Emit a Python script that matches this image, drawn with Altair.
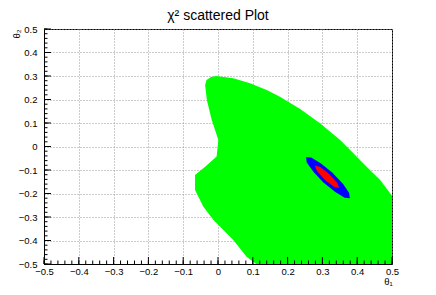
import altair as alt
import pandas as pd

# green region outline
green_x = [-0.005, 0.044, 0.092, 0.140, 0.178, 0.236, 0.293, 0.351, 0.389, 0.427, 0.466, 0.500,
           0.500, 0.110, 0.082, 0.044, -0.013, -0.042, -0.066, -0.066, -0.037, -0.004, 0.001,
           -0.018, -0.032, -0.037, -0.033, -0.020]
green_y = [0.300, 0.290, 0.269, 0.240, 0.212, 0.160, 0.099, 0.028, -0.029, -0.086, -0.143, -0.210,
           -0.500, -0.500, -0.469, -0.398, -0.313, -0.256, -0.185, -0.121, -0.086, -0.043, 0.028,
           0.113, 0.198, 0.262, 0.283, 0.296]

# blue region outline
blue_x = [0.379, 0.364, 0.337, 0.303, 0.274, 0.255, 0.253, 0.268, 0.296, 0.329, 0.359, 0.377]
blue_y = [-0.220, -0.218, -0.194, -0.153, -0.107, -0.068, -0.046, -0.047, -0.072, -0.112, -0.159, -0.198]

# red region outline
red_x = [0.348, 0.333, 0.306, 0.284, 0.278, 0.294, 0.320, 0.343]
red_y = [-0.177, -0.171, -0.140, -0.103, -0.081, -0.087, -0.118, -0.155]

major_ticks = [-0.5, -0.4, -0.3, -0.2, -0.1, 0.0, 0.1, 0.2, 0.3, 0.4, 0.5]
minor_ticks = [round(-0.5 + 0.02 * i, 2) for i in range(51)]

title_text = ["χ² scattered Plot"]

FONT = "Liberation Sans"
W, H = 348, 235

def poly(xs, ys):
    return pd.DataFrame({"x": xs, "y": ys, "i": list(range(len(xs)))})

xscale = alt.Scale(domain=[-0.5, 0.5], nice=False, zero=False)
yscale = alt.Scale(domain=[-0.5, 0.5], nice=False, zero=False)

xaxis = alt.Axis(values=major_ticks, format=".1~f", ticks=False, grid=True,
                 gridDash=[1, 2], gridColor="#999", gridWidth=1,
                 labelFont=FONT, labelFontSize=9.5, labelPadding=2, labelColor="black",
                 labelFlush=False, labelOverlap=False, labelBound=False,
                 title="θ₁", titleFont=FONT, titleFontSize=9.5, titleFontWeight="normal",
                 titleX=344, titleY=12, titleAlign="center", titleBaseline="top")
yaxis = alt.Axis(values=major_ticks, format=".1~f", ticks=False, grid=True,
                 gridDash=[1, 2], gridColor="#999", gridWidth=1,
                 labelFont=FONT, labelFontSize=9.5, labelPadding=7, labelColor="black",
                 labelFlush=False, labelOverlap=False, labelBound=False,
                 title="θ₂", titleFont=FONT, titleFontSize=9.5, titleFontWeight="normal",
                 titleAngle=-90, titleX=-28, titleY=0, titleAlign="right", titleBaseline="middle")

X = alt.X("x:Q", scale=xscale, axis=xaxis)
Y = alt.Y("y:Q", scale=yscale, axis=yaxis)

green = alt.Chart(poly(green_x, green_y)).mark_line(filled=True, color="#00ff00").encode(
    x=X, y=Y, order="i:Q")
blue = alt.Chart(poly(blue_x, blue_y)).mark_line(filled=True, color="#0000ff").encode(
    x=X, y=Y, order="i:Q")
red = alt.Chart(poly(red_x, red_y)).mark_line(filled=True, color="#ff0000").encode(
    x=X, y=Y, order="i:Q")

tmaj = pd.DataFrame({"x": major_ticks, "y": major_ticks})
tmin = pd.DataFrame({"x": minor_ticks, "y": minor_ticks})

xmaj = alt.Chart(tmaj).mark_rule(color="black", strokeWidth=1).encode(
    x=X, y=alt.value(H), y2=alt.value(H - 7))
xmin = alt.Chart(tmin).mark_rule(color="black", strokeWidth=1).encode(
    x=X, y=alt.value(H), y2=alt.value(H - 3.5))
ymaj = alt.Chart(tmaj).mark_rule(color="black", strokeWidth=1).encode(
    y=Y, x=alt.value(0), x2=alt.value(7))
ymin = alt.Chart(tmin).mark_rule(color="black", strokeWidth=1).encode(
    y=Y, x=alt.value(0), x2=alt.value(3.5))

title = alt.Chart(pd.DataFrame({"t": title_text})).mark_text(
    font=FONT, fontSize=14, color="black", align="center", baseline="alphabetic"
).encode(text="t:N", x=alt.value(W / 2), y=alt.value(-9))

chart = alt.layer(green, blue, red, xmaj, xmin, ymaj, ymin, title).properties(
    width=W, height=H,
    autosize="none",
    padding={"left": 36, "top": 21, "right": 36, "bottom": 22},
).configure_view(stroke="black", strokeWidth=1).configure_axis(
    domainColor="black", domainWidth=1, labelOverlap=False)

chart.save("out.html", embed_options={"renderer": "svg", "actions": False})
